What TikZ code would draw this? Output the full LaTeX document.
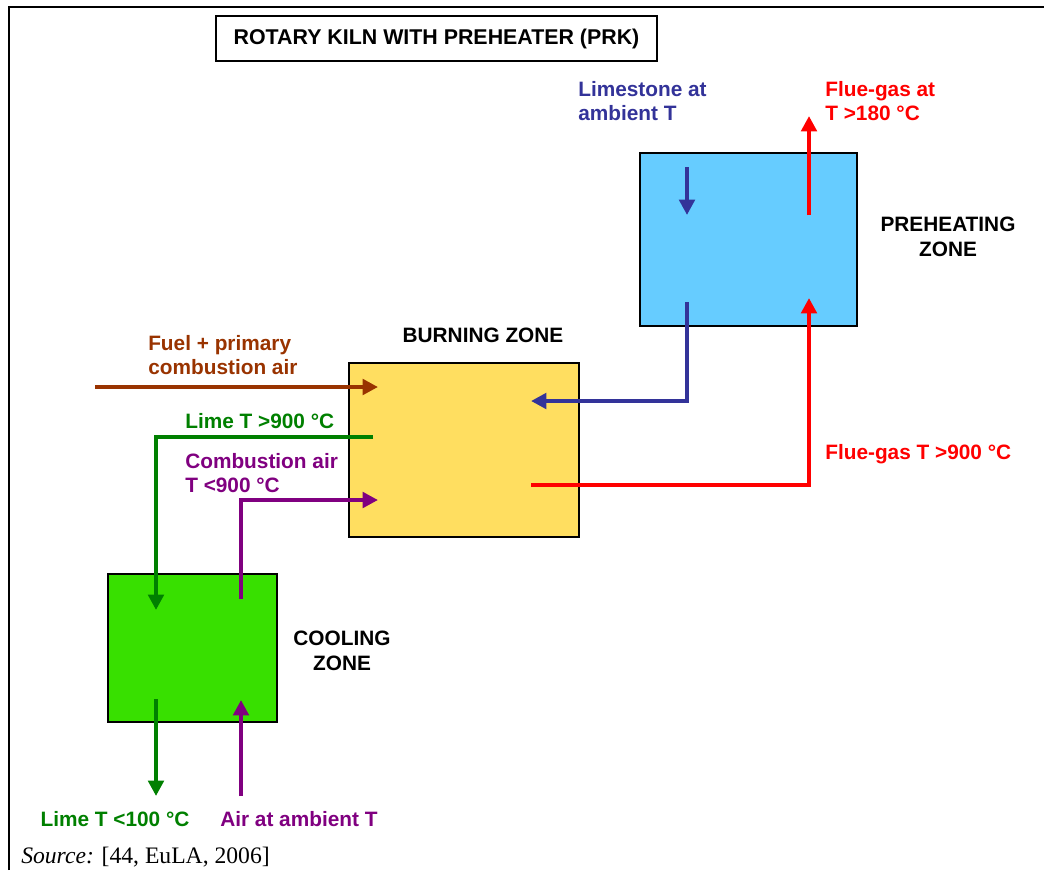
\documentclass[tikz,border=0pt]{standalone}
\usepackage{fontspec}
\setmainfont{Liberation Sans}
\newfontfamily\srcfont{Liberation Serif}
\usepackage{xcolor}
\usepackage{tikz}
\usetikzlibrary{arrows.meta, positioning, calc}
\definecolor{stoneblue}{RGB}{51,51,153}
\definecolor{gasred}{RGB}{255,0,0}
\definecolor{fuelbrown}{RGB}{153,51,0}
\definecolor{limegreen}{RGB}{0,128,0}
\definecolor{airpurple}{RGB}{128,0,128}
\definecolor{fillpre}{RGB}{102,204,255}
\definecolor{fillburn}{RGB}{255,222,96}
\definecolor{fillcool}{RGB}{56,224,0}
\newcommand{\lblfont}{\fontsize{14.8}{17.7}\selectfont\bfseries}
\tikzset{
  zone/.style={rectangle, draw=black, line width=1pt,
    inner sep=0pt, outer sep=0pt},
  zonelabel/.style={align=center, font=\lblfont, inner sep=0pt},
  flowlabel/.style={align=left, font=\lblfont, inner sep=0pt, anchor=west},
  flow/.style={-{Triangle[length=11pt,width=11pt]}, line width=2.8pt},
  pipe/.style={line width=2.8pt, line join=miter}
}

\begin{document}
\begin{tikzpicture}[x=0.025cm, y=-0.025cm]
  \useasboundingbox (0,0) rectangle (1044,870);
  \draw[line width=1.8pt] (9,870) -- (9,7) -- (1044,7);

  \node[draw=black, line width=1.2pt, minimum width=11.025cm,
    minimum height=1.125cm, font=\fontsize{15.2}{18}\selectfont\bfseries]
    (title) at (436.5,38.5) {ROTARY KILN WITH PREHEATER (PRK)};

  % zones
  \node[zone, fill=fillpre, minimum width=5.425cm, minimum height=4.325cm]
    (preheat) at (748.5,239.5) {};
  \node[zone, fill=fillburn, minimum width=5.75cm, minimum height=4.35cm]
    (burn) at (464,450) {};
  \node[zone, fill=fillcool, minimum width=4.225cm, minimum height=3.7cm]
    (cool) at (192.5,648) {};

  \node[zonelabel] (prelbl) at (948,237) {PREHEATING\\ZONE};
  \node[zonelabel] (burnlbl) at (483,335) {BURNING ZONE};
  \node[zonelabel] (coollbl) at (342,651) {COOLING\\ZONE};

  % stream labels
  \node[flowlabel, text=stoneblue] (stonelbl) at (578,101) {Limestone at\\ambient T};
  \node[flowlabel, text=gasred] (fluelbl) at (825,101) {Flue-gas at\\T >180 °C};
  \node[flowlabel, text=gasred] (hotgaslbl) at (825,454) {Flue-gas T >900 °C};
  \node[flowlabel, text=fuelbrown] (fuellbl) at (148,355) {Fuel + primary\\combustion air};
  \node[flowlabel, text=limegreen] (hotlimelbl) at (185,421) {Lime T >900 °C};
  \node[flowlabel, text=airpurple] (hotairlbl) at (185,473) {Combustion air\\T <900 °C};
  \node[zonelabel, text=limegreen] (coldlimelbl) at (115,819) {Lime T <100 °C};
  \node[flowlabel, text=airpurple] (airlbl) at (220,819) {Air at ambient T};
  \node[anchor=west, inner sep=0pt, font=\srcfont\fontsize{16.8}{19}\selectfont]
    (source) at (21,857) {\textit{Source:} [44, EuLA, 2006]};

  % flow end points
  \coordinate (stoneTop) at (687,167);
  \coordinate (stoneIn) at (687,215);
  \coordinate (stoneOut) at (687,302);
  \coordinate (stoneBurn) at (531,401);
  \coordinate (flueIn) at (809,215);
  \coordinate (flueTop) at (809,116);
  \coordinate (gasOut) at (531,485);
  \coordinate (gasPre) at (809,298);
  \coordinate (fuelStart) at (95,387);
  \coordinate (fuelIn) at (378,387);
  \coordinate (limeOut) at (373,437);
  \coordinate (limeCool) at (156,610);
  \coordinate (airOut) at (241,599);
  \coordinate (airBurn) at (378,500);
  \coordinate (limeDone) at (156,699);
  \coordinate (limeEnd) at (156,796);
  \coordinate (airStart) at (241,796);
  \coordinate (airCool) at (241,700);

  \draw[flow, color=stoneblue] (stoneTop) -- (stoneIn);
  \draw[flow, pipe, color=stoneblue] (stoneOut) |- (stoneBurn);
  \draw[flow, color=gasred] (flueIn) -- (flueTop);
  \draw[flow, pipe, color=gasred] (gasOut) -| (gasPre);
  \draw[flow, color=fuelbrown] (fuelStart) -- (fuelIn);
  \draw[flow, pipe, color=limegreen] (limeOut) -| (limeCool);
  \draw[flow, pipe, color=airpurple] (airOut) |- (airBurn);
  \draw[flow, color=limegreen] (limeDone) -- (limeEnd);
  \draw[flow, color=airpurple] (airStart) -- (airCool);
\end{tikzpicture}
\end{document}
